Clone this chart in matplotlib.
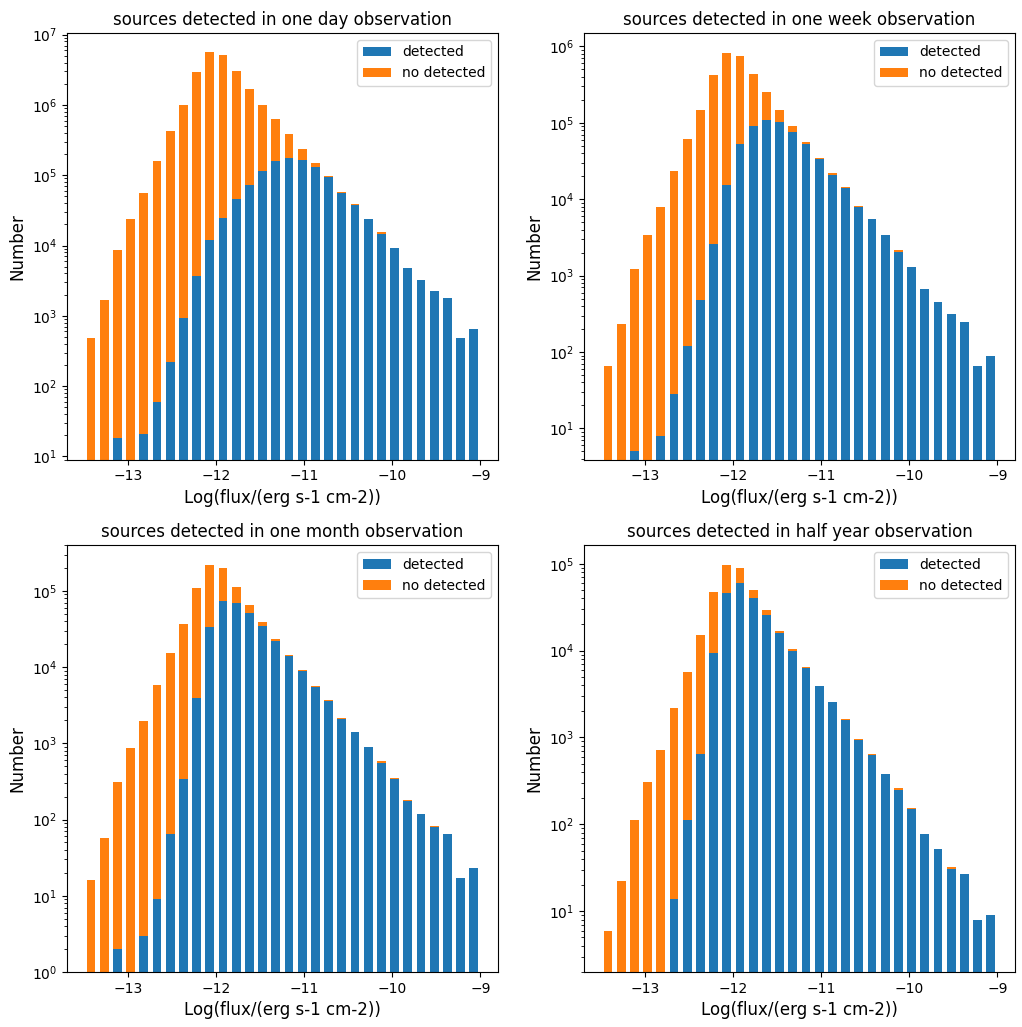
import numpy as np
import matplotlib
matplotlib.use('Agg')
import matplotlib.pyplot as plt

# bin edges of log flux, 30 bins of 0.15
edges = np.linspace(-13.5, -9.0, 31)
centers = (edges[:-1] + edges[1:]) / 2

titles = ['sources detected in one day observation',
          'sources detected in one week observation',
          'sources detected in one month observation',
          'sources detected in half year observation']

# detected counts / all counts per bin
det_day = [0, 0, 18, 0, 21, 59, 222, 918, 3720, 12000, 24600, 45700, 71800, 113000, 157000,
           178000, 167000, 129000, 93000, 55800, 37400, 23800, 14500, 9300, 4800, 3270, 2260,
           1780, 480, 650]
all_day = [490, 1660, 8700, 23800, 55800, 162000, 427000, 1000000, 2900000, 5600000, 5100000,
           3000000, 1680000, 1000000, 630000, 380000, 239000, 151000, 98000, 57000, 38600,
           23800, 15500, 9300, 4800, 3270, 2260, 1780, 480, 650]

det_week = [0, 0, 5, 0, 8, 28, 120, 477, 2610, 15500, 52100, 89500, 110000, 101000, 76400,
            52000, 33600, 21000, 13800, 7870, 5480, 3360, 2050, 1300, 670, 458, 316, 249, 66, 88]
all_week = [66, 232, 1210, 3360, 7870, 23700, 61200, 145000, 423000, 826000, 755000, 435000,
            249000, 148000, 91600, 56000, 34300, 21800, 14300, 8180, 5480, 3360, 2180, 1300,
            670, 458, 316, 249, 66, 88]

det_month = [0, 0, 2, 0, 3, 9, 65, 343, 3990, 33400, 74000, 70300, 52000, 34400, 22300, 14200,
             8850, 5510, 3610, 2100, 1430, 883, 556, 343, 173, 120, 80, 65, 17, 23]
all_month = [16, 57, 310, 857, 1970, 5920, 15400, 37300, 109000, 217000, 198000, 113000, 65500,
             38800, 23500, 14600, 9200, 5740, 3760, 2180, 1430, 883, 590, 353, 178, 120, 83, 65,
             17, 23]

det_half = [0, 0, 0, 0, 0, 14, 111, 638, 9300, 46400, 60500, 40600, 25700, 15800, 10000, 6320,
            3960, 2530, 1610, 924, 621, 382, 248, 151, 77, 52, 31, 27, 8, 9]
all_half = [6, 22, 111, 309, 709, 2160, 5690, 15000, 47600, 96600, 88400, 50200, 29600, 17000,
            10500, 6550, 3960, 2530, 1650, 957, 638, 382, 262, 156, 77, 52, 32, 27, 8, 9]

detected = [det_day, det_week, det_month, det_half]
totals = [all_day, all_week, all_month, all_half]
ylims = [(8.97, 1.06e7), (3.9, 1.5e6), (1, 4.0e5), (2.0, 1.64e5)]

fig, axes = plt.subplots(2, 2, figsize=(10.22, 10.27), dpi=100)
plt.subplots_adjust(left=0.0656, right=0.993, top=0.968, bottom=0.0536, wspace=0.2, hspace=0.2)

for ax, title, det, tot, yl in zip(axes.flat, titles, detected, totals, ylims):
    det = np.array(det, dtype=float)
    tot = np.array(tot, dtype=float)
    ax.bar(centers, det, width=0.1, color='#1f77b4', label='detected')
    ax.bar(centers, tot - det, width=0.1, bottom=det, color='#ff7f0e', label='no detected')
    ax.set_yscale('log')
    ax.set_ylim(*yl)
    ax.set_xticks([-13, -12, -11, -10, -9])
    ax.set_title(title)
    ax.set_xlabel('Log(flux/(erg s-1 cm-2))', fontsize=12)
    ax.set_ylabel('Number', fontsize=12)
    ax.legend(loc='upper right')

plt.savefig('out.png')
